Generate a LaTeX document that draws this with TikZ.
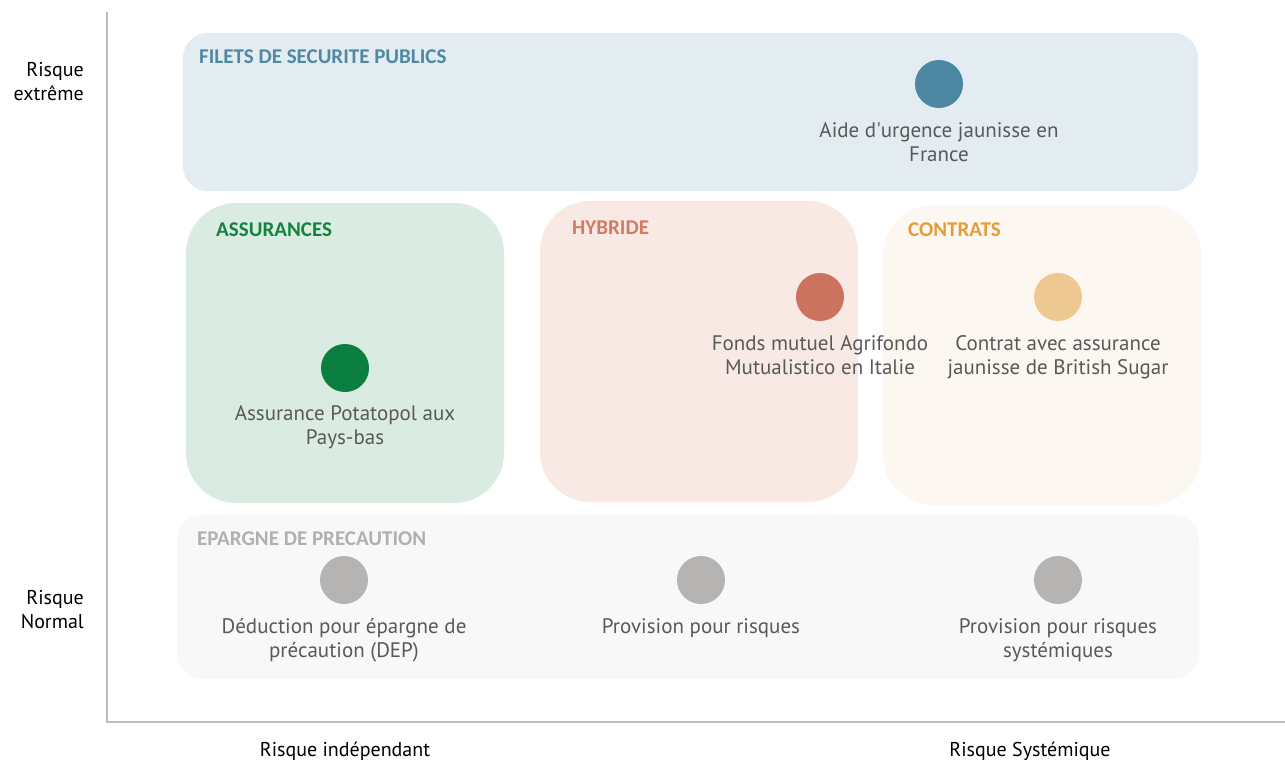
\documentclass[tikz,border=0pt]{standalone}
\usepackage{fontspec}
\setmainfont{PT Sans}
\newfontfamily\headfont{Carlito}
\definecolor{axisgray}{HTML}{BDBDBD}
\definecolor{txt}{HTML}{595959}
\definecolor{pubfill}{HTML}{E3ECF0}
\definecolor{pubdark}{HTML}{4B87A3}
\definecolor{pubhead}{HTML}{5089A3}
\definecolor{assfill}{HTML}{DAEBE1}
\definecolor{assdark}{HTML}{0A7F3F}
\definecolor{asshead}{HTML}{138440}
\definecolor{hybfill}{HTML}{F8E9E5}
\definecolor{hybdark}{HTML}{CC7360}
\definecolor{hybhead}{HTML}{D17A66}
\definecolor{confill}{HTML}{FCF6EE}
\definecolor{condark}{HTML}{EEC891}
\definecolor{conhead}{HTML}{E59D3C}
\definecolor{epafill}{HTML}{F8F8F8}
\definecolor{epadark}{HTML}{B5B4B3}
\definecolor{epahead}{HTML}{B0B0B0}
\tikzset{
  zone/.style={rounded corners=#1, draw=none},
  heading/.style={font=\headfont\bfseries\fontsize{21}{24}\selectfont, anchor=west, inner sep=0pt},
  dot/.style={circle, minimum size=48pt, inner sep=0pt, draw=none, fill=#1},
  caption/.style={font=\fontsize{21}{24}\selectfont, text=txt, align=center, anchor=north, inner sep=0pt},
  axislabel/.style={font=\fontsize{20}{24}\selectfont, text=black, inner sep=0pt},
}
\begin{document}
\begin{tikzpicture}[x=1pt, y=-1pt]
\useasboundingbox (0,0) rectangle (1285,760);
% zones
\fill[zone=25pt, pubfill] (183,33) rectangle (1198,191);
\fill[zone=50pt, assfill] (186,203) rectangle (504,503);
\fill[zone=50pt, hybfill] (540,201) rectangle (858,502);
\fill[zone=50pt, confill, opacity=0.85] (883,205) rectangle (1201,505);
\fill[zone=25pt, epafill] (177,515) rectangle (1199,679);
% zone headings
\node[heading, text=pubhead] (hpub) at (199,57) {FILETS DE SECURITE PUBLICS};
\node[heading, text=asshead] (hass) at (216,230) {ASSURANCES};
\node[heading, text=hybhead] (hhyb) at (572,228) {HYBRIDE};
\node[heading, text=conhead] (hcon) at (908,230) {CONTRATS};
\node[heading, text=epahead] (hepa) at (197,539) {EPARGNE DE PRECAUTION};
% instruments
\node[dot=pubdark] (d1) at (939,84) {};
\node[caption] (c1) at (939,122) {Aide d\textquotesingle urgence jaunisse en\\France};
\node[dot=assdark] (d2) at (345,368) {};
\node[caption] (c2) at (345,405) {Assurance Potatopol aux\\Pays-bas};
\node[dot=hybdark] (d3) at (820,297) {};
\node[caption] (c3) at (820,335) {Fonds mutuel Agrifondo\\Mutualistico en Italie};
\node[dot=condark] (d4) at (1058,297) {};
\node[caption] (c4) at (1058,335) {Contrat avec assurance\\jaunisse de British Sugar};
\node[dot=epadark] (d5) at (344,580) {};
\node[caption] (c5) at (344,618) {Déduction pour épargne de\\précaution (DEP)};
\node[dot=epadark] (d6) at (701,580) {};
\node[caption] (c6) at (701,618) {Provision pour risques};
\node[dot=epadark] (d7) at (1058,580) {};
\node[caption] (c7) at (1058,618) {Provision pour risques\\systémiques};
% axes
\coordinate (top) at (107,12);
\coordinate (origin) at (107,722);
\coordinate (right) at (1285,722);
\draw[axisgray, line width=1.5pt] (top) -- (origin) -- (right);
\node[axislabel, anchor=north east, align=right] (ly1) at (84,62) {Risque\\extrême};
\node[axislabel, anchor=north east, align=right] (ly2) at (84,590) {Risque\\Normal};
\node[axislabel, anchor=center] (lx1) at (345,751) {Risque indépendant};
\node[axislabel, anchor=center] (lx2) at (1030,751) {Risque Systémique};
\end{tikzpicture}
\end{document}
